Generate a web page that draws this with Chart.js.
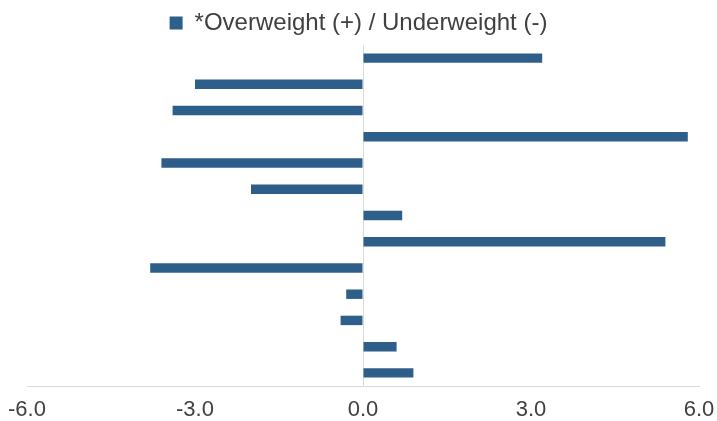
<!DOCTYPE html>
<html>
<head>
<meta charset="utf-8">
<script src="https://cdn.jsdelivr.net/npm/chart.js@4"></script>
<style>
  html, body { margin: 0; padding: 0; background: #ffffff; }
  #wrap { width: 717px; height: 421px; }
</style>
</head>
<body>
<div id="wrap"><canvas id="chart" width="717" height="421"></canvas></div>
<script>
// Categories (not printed on the chart) and the over/underweight values
const categories = ["1", "2", "3", "4", "5", "6", "7", "8", "9", "10", "11", "12", "13"];
const weights = [3.2, -3.0, -3.4, 5.8, -3.6, -2.0, 0.7, 5.4, -3.8, -0.3, -0.4, 0.6, 0.9];
const seriesName = "*Overweight (+) / Underweight (-)";
const xTicks = [-6, -3, 0, 3, 6];

const barColor = "#2E5F8A";
const textColor = "#404040";
const lineColor = "#D9D9D9";

const ctx = document.getElementById("chart");

new Chart(ctx, {
    type: "bar",
    data: {
        labels: categories,
        datasets: [{
            label: seriesName,
            data: weights,
            backgroundColor: barColor,
            borderWidth: 0,
            barPercentage: 0.36,
            categoryPercentage: 1,
        }],
    },
    options: {
        indexAxis: "y",
        responsive: false,
        animation: false,
        layout: { padding: { left: 0, right: 0, top: 1, bottom: 0 } },
        plugins: {
            tooltip: { enabled: false },
            legend: {
                position: "top",
                labels: {
                    color: textColor,
                    font: { family: "Liberation Sans, Arial, sans-serif", size: 24 },
                    boxWidth: 13,
                    boxHeight: 13,
                    padding: 10,
                },
            },
        },
        scales: {
            x: {
                min: -6,
                max: 6,
                afterBuildTicks: (axis) => {
                    axis.ticks = xTicks.map((v) => ({ value: v }));
                },
                afterFit: (axis) => {
                    // keep the plot between the -6.0 and 6.0 labels like the original
                    axis.paddingLeft = 27;
                    axis.paddingRight = 18;
                    axis.height = 35;
                },
                ticks: {
                    color: textColor,
                    font: { family: "Liberation Sans, Arial, sans-serif", size: 22, lineHeight: 1 },
                    callback: (v) => Number(v).toFixed(1),
                    padding: 13,
                    maxRotation: 0,
                },
                grid: {
                    drawTicks: false,
                    color: (c) => (c.tick && c.tick.value === 0 ? lineColor : "rgba(0,0,0,0)"),
                    lineWidth: 1,
                },
                border: { display: true, color: lineColor, width: 1 },
            },
            y: {
                display: false,
            },
        },
    },
});
</script>
</body>
</html>
